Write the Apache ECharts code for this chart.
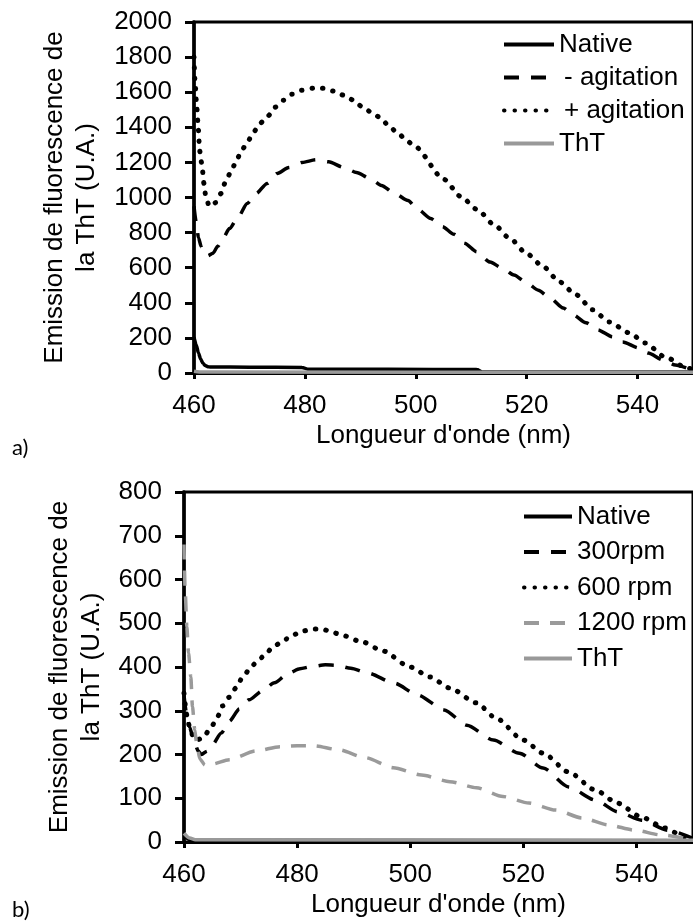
<!DOCTYPE html>
<html>
<head>
<meta charset="utf-8">
<script src="https://cdn.jsdelivr.net/npm/echarts@6/dist/echarts.min.js"></script>
<style>
  html, body { margin: 0; padding: 0; background: #fff; }
  #chart { width: 693px; height: 923px; }
</style>
</head>
<body>
<div id="chart"></div>
<script>
// wavelength (nm) / fluorescence (U.A.) pairs
var xTicks = [460, 480, 500, 520, 540];

// panel a)
var nativeA = [[460,205],[460.4,160],[460.8,114],[461.2,80],[461.6,56],[462,43],[462.5,36],[463,34],[470,33],[479.5,32],[480.5,22],[495,21],[511,20],[512,6],[530,5],[550,5]];
var agitMinus = [[460,950],[460.4,860],[460.8,771],[461.3,720],[461.7,685],[462.5,668],[463.4,682],[464.3,722],[465.2,766],[466.4,823],[467.9,886],[469.6,966],[471.2,1023],[473.2,1080],[475,1137],[477.1,1171],[479.5,1200],[482,1215],[484.3,1203],[487,1171],[489.3,1143],[491.8,1108],[493.8,1069],[496.2,1023],[498.6,983],[500.4,931],[502.7,880],[504.8,834],[506.9,790],[508.8,740],[511,691],[513.4,632],[515.5,600],[517.7,558],[520,514],[522.1,472],[524.1,430],[526.6,370],[528.4,331],[530.7,286],[532.8,246],[535.5,206],[537.3,177],[540.2,143],[541.9,114],[544.6,74],[546.8,46],[550,15]];
var agitPlus = [[460,1800],[460.2,1651],[460.5,1514],[460.8,1383],[461,1269],[461.4,1194],[461.8,1080],[462.1,1011],[462.7,955],[463.3,950],[463.9,971],[464.9,1023],[465.7,1091],[466.7,1149],[467.6,1206],[468.5,1263],[469.7,1320],[470.7,1371],[471.9,1423],[473.3,1463],[474.6,1514],[476.1,1554],[477.7,1589],[479.5,1611],[481.6,1623],[483.4,1623],[485.2,1606],[487,1583],[488.8,1554],[490.2,1520],[492,1486],[493.8,1451],[495,1411],[496.8,1366],[498.3,1326],[499.8,1291],[505.1,1103],[508.1,1006],[511.1,931],[514.1,846],[517,766],[520,680],[523,606],[525.9,520],[528.9,446],[531.9,360],[534.9,291],[538.5,229],[541.4,171],[545,91],[548.9,29],[550,20]];
var thtA = [[460,10],[461,6],[463,5],[550,4]];

// panel b)
var nativeB = [[460,14],[461,6],[462,4],[550,3]];
var rpm300 = [[460,335],[460.5,290],[461,262],[461.5,243],[462,222],[462.5,208],[463.1,200],[464,207],[465,222],[466.6,249],[468,276],[469.8,304],[471.5,325],[473.8,345],[476,364],[478.5,386],[480.5,396],[482.6,401],[485,405],[487,404],[489.5,397],[492.5,386],[497.2,363],[501.3,336],[506,302],[510,267],[514.7,233],[519.3,203],[523.5,169],[528,126],[532.7,96],[536.7,69],[540.9,50],[545.5,27],[550,8]];
var rpm600 = [[460,340],[460.5,290],[461,262],[461.6,242],[462.2,232],[462.9,236],[463.7,245],[464.9,265],[466,288],[466.8,311],[468,331],[469.2,352],[470.3,375],[471.5,393],[472.8,411],[474.3,427],[475.7,446],[477.3,457],[479,472],[481,482],[482.6,487],[484.3,487],[486,481],[487.8,473],[491.6,457],[495.1,437],[500,400],[503.5,377],[507,352],[511.7,318],[515.2,283],[520,233],[523.5,203],[528,160],[532.7,119],[536.6,89],[540.9,57],[545,32],[548.5,12],[550,6]];
var rpm1200 = [[460,680],[460.2,576],[460.5,492],[460.8,432],[461.2,378],[461.5,309],[461.9,256],[462.2,229],[462.8,190],[463.7,176],[465,178],[468,188],[472.7,208],[477,218],[480,220],[483,220],[487.3,211],[492,193],[497,170],[502,153],[507,138],[511.7,124],[516.4,104],[521,89],[525.7,73],[530.4,55],[535,39],[539.7,27],[544.4,16],[550,5]];
var thtB = [[460,20],[461,9],[462,5],[550,4]];

var FONT = "'Liberation Sans', Arial, sans-serif";
var yName = 'Emission de fluorescence de\nla ThT (U.A.)';

function xAxisFor(grid) {
    return {
        gridIndex: grid, type: 'value', min: 460, max: 550, interval: 20,
        axisLine: {show: true, lineStyle: {color: '#000', width: 3}},
        axisTick: {show: true, length: 6, lineStyle: {color: '#000', width: 3}},
        splitLine: {show: false},
        axisLabel: {
            color: '#000', fontSize: 26, fontFamily: FONT, margin: 20, showMaxLabel: false,
            formatter: function (v) { return xTicks.indexOf(v) >= 0 ? String(v) : ''; }
        },
        name: "Longueur d'onde (nm)", nameLocation: 'middle', nameGap: 50,
        nameTextStyle: {color: '#000', fontSize: 26, fontFamily: FONT}
    };
}

function yAxisFor(grid, max, step, gap) {
    return {
        gridIndex: grid, type: 'value', min: 0, max: max, interval: step,
        axisLine: {show: true, lineStyle: {color: '#000', width: 3.5}},
        axisTick: {show: true, length: 9, lineStyle: {color: '#000', width: 3}},
        splitLine: {show: false},
        axisLabel: {
            color: '#000', fontSize: 26, fontFamily: FONT, margin: 22,
            formatter: function (v) { return String(v); }
        },
        name: yName, nameLocation: 'middle', nameRotate: 90, nameGap: gap,
        nameTextStyle: {color: '#000', fontSize: 26, fontFamily: FONT, lineHeight: 32}
    };
}

function line(name, data, idx, style) {
    return {
        name: name, type: 'line', data: data, xAxisIndex: idx, yAxisIndex: idx,
        symbol: 'none', smooth: 0.25, smoothMonotone: 'x',
        itemStyle: {color: style.color},
        lineStyle: style
    };
}

var solidBlack = {color: '#000', width: 3.5};
var dashBlack = {color: '#000', width: 3.5, type: [15, 12]};
var dotBlack = {color: '#000', width: 5, type: [0.5, 10], cap: 'round'};
var dashGray = {color: '#9a9a9a', width: 3.5, type: [15, 11]};
var solidGray = {color: '#999', width: 3.5};

var legendText = {color: '#000', fontSize: 26, fontFamily: FONT, lineHeight: 33};

var myChart = echarts.init(document.getElementById('chart'));
var options = {
    animation: false,
    backgroundColor: '#fff',
    title: [
        {text: 'a)', left: 12, top: 437, padding: 0, textStyle: {color: '#000', fontSize: 22, fontWeight: 'normal', fontFamily: 'Lato'}},
        {text: 'b)', left: 12, top: 899, padding: 0, textStyle: {color: '#000', fontSize: 22, fontWeight: 'normal', fontFamily: 'Lato'}}
    ],
    grid: [
        {left: 194, right: -5, top: 22, bottom: 550, show: true, borderColor: '#000', borderWidth: 3},
        {left: 184, right: -6, top: 492, bottom: 81, show: true, borderColor: '#000', borderWidth: 3}
    ],
    legend: [
        {
            orient: 'vertical', left: 502, top: 28, padding: 0,
            itemWidth: 50, itemHeight: 14, itemGap: 0,
            itemStyle: {opacity: 0}, lineStyle: {width: 4},
            textStyle: legendText,
            data: ['Native', {name: '- agitation', textStyle: {padding: [0, 0, 0, 5]}},
                   {name: '+ agitation', textStyle: {padding: [0, 0, 0, 5]}}, 'ThT']
        },
        {
            orient: 'vertical', left: 522, top: 500, padding: 0,
            itemWidth: 48, itemHeight: 14, itemGap: 2.5,
            itemStyle: {opacity: 0}, lineStyle: {width: 4},
            textStyle: legendText,
            data: ['Native', '300rpm', '600 rpm', '1200 rpm', 'ThT']
        }
    ],
    xAxis: [xAxisFor(0), xAxisFor(1)],
    yAxis: [yAxisFor(0, 2000, 200, 71), yAxisFor(1, 800, 100, 66)],
    series: [
        line('Native', nativeA, 0, solidBlack),
        line('- agitation', agitMinus, 0, dashBlack),
        line('+ agitation', agitPlus, 0, dotBlack),
        line('ThT', thtA, 0, solidGray),
        line('Native', nativeB, 1, solidBlack),
        line('300rpm', rpm300, 1, dashBlack),
        line('600 rpm', rpm600, 1, dotBlack),
        line('1200 rpm', rpm1200, 1, dashGray),
        line('ThT', thtB, 1, solidGray)
    ]
};
myChart.setOption(options, true);
window.onresize = function () {
    setTimeout(function () {
        myChart.resize();
    }, 200);
};
</script>
</body>
</html>
